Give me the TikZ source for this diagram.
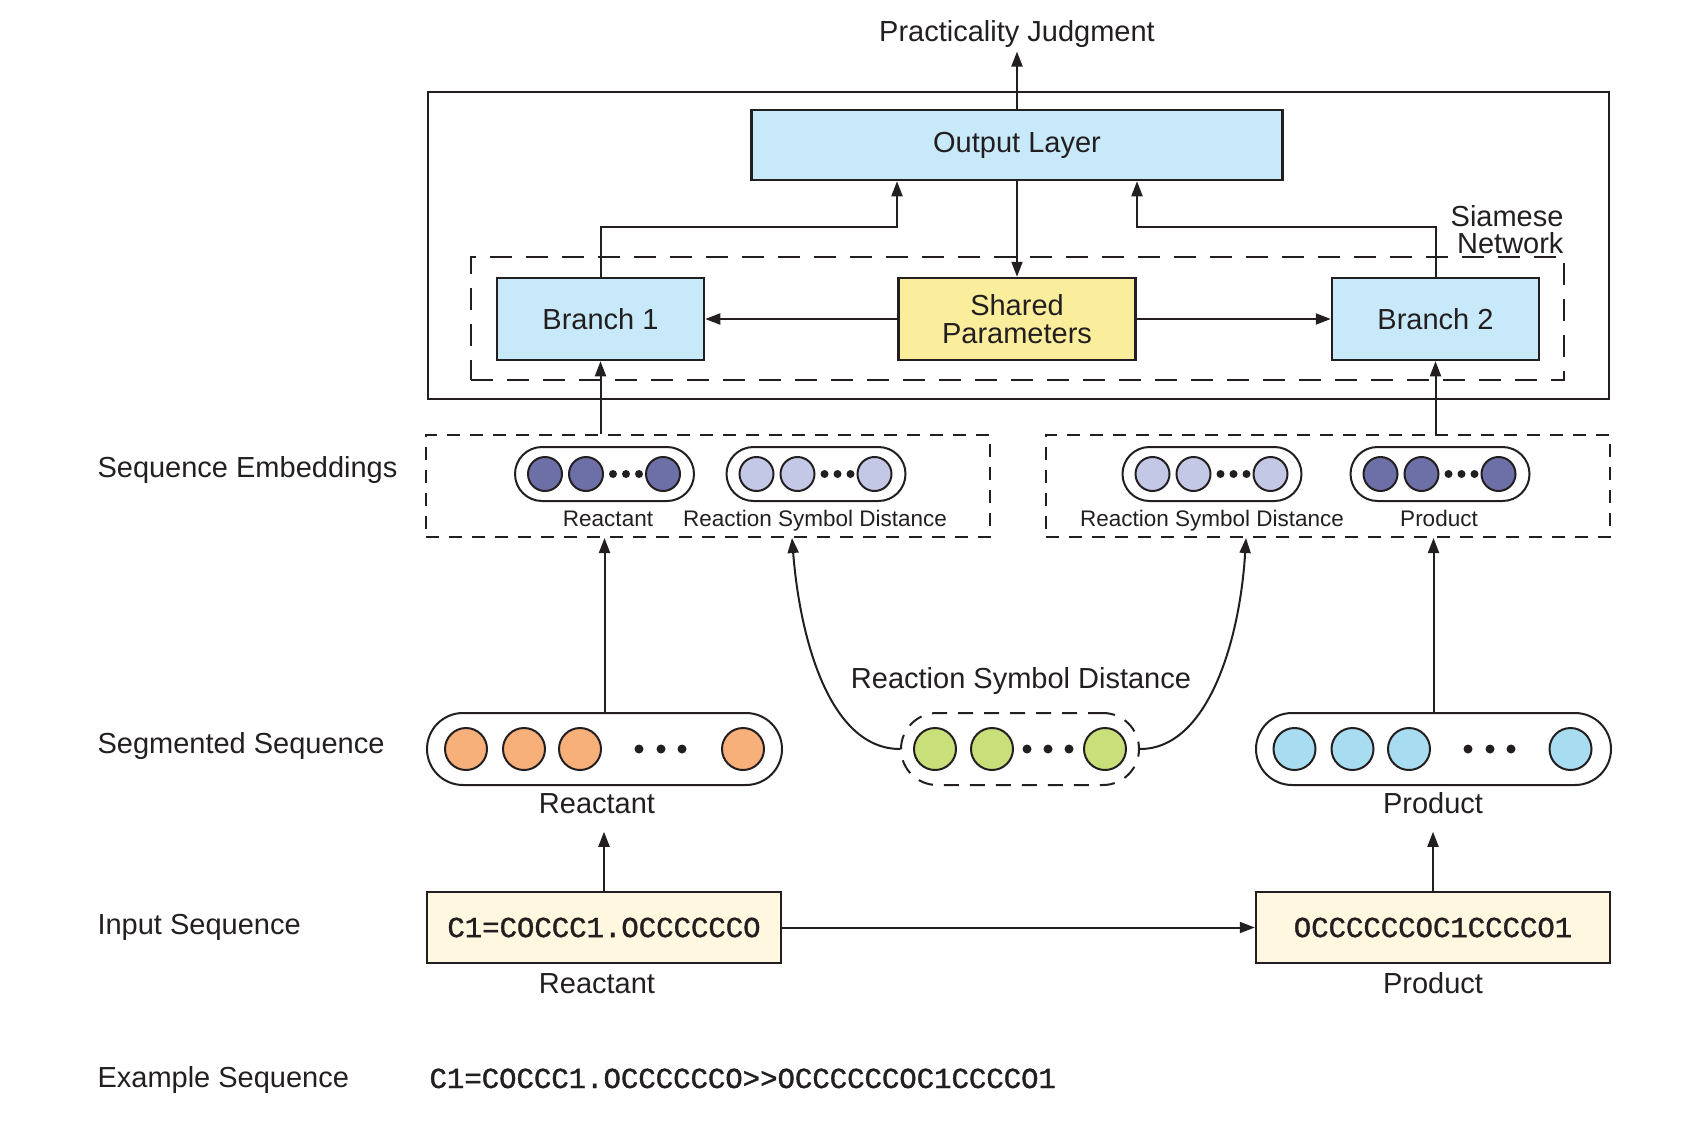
\documentclass[tikz,border=0pt]{standalone}
\usepackage{fontspec}
\setmainfont{Liberation Sans}
\setmonofont{Liberation Mono}[FakeBold=1.3]
\usetikzlibrary{arrows.meta}
\definecolor{ink}{HTML}{231F20}
\definecolor{boxblue}{HTML}{C8E9F9}
\definecolor{sharedy}{HTML}{FAEE9C}
\definecolor{embdark}{HTML}{6C70A7}
\definecolor{emblight}{HTML}{C4C8E7}
\definecolor{orangec}{HTML}{F8B07B}
\definecolor{greenc}{HTML}{C8DF7A}
\definecolor{prodc}{HTML}{A8DDF1}
\definecolor{creamc}{HTML}{FFF7DF}
\begin{document}
\begin{tikzpicture}[x=1pt,y=-1pt,
  every node/.style={font=\fontsize{29}{33}\selectfont, text=ink},
  ln/.style={draw=ink, line width=2pt},
  arr/.style={ln, -{Triangle[length=15pt,width=11pt]}},
  sbox/.style={draw=ink, line width=2.5pt, inner sep=0pt, align=center},
  smalltxt/.style={font=\fontsize{22.5}{26}\selectfont},
  monotxt/.style={font=\fontsize{29}{33}\ttfamily},
  embbox/.style={draw=ink, line width=2pt, dash pattern=on 13pt off 10pt, minimum width=564pt, minimum height=102pt, inner sep=0pt},
  pillE/.style={draw=ink, line width=2pt, rounded corners=27pt, minimum width=179pt, minimum height=54pt, inner sep=0pt},
  pillS/.style={draw=ink, line width=2pt, rounded corners=36pt, minimum width=355pt, minimum height=72pt, inner sep=0pt},
  ecirc/.style={circle, draw=ink, line width=2pt, minimum size=34pt, inner sep=0pt},
  scirc/.style={circle, draw=ink, line width=2pt, minimum size=42pt, inner sep=0pt},
  edot/.style={circle, fill=ink, minimum size=8pt, inner sep=0pt},
  sdot/.style={circle, fill=ink, minimum size=9pt, inner sep=0pt}
]
\useasboundingbox (0,0) rectangle (1691,1132);

% ---------- Siamese network ----------
\node[draw=ink, line width=2pt, minimum width=1181pt, minimum height=307pt, inner sep=0pt] (siam) at (1018.5,245.5) {};
\node[draw=ink, line width=2pt, dash pattern=on 22pt off 14pt, minimum width=1093pt, minimum height=123pt, inner sep=0pt] (sdash) at (1017.5,318.5) {};
\node[anchor=base east] (siam1) at (1567,226) {Siamese};
\node[anchor=base east] (siam2) at (1567,253) {Network};

\node[anchor=base] (title) at (1017,42) {Practicality Judgment};
\node[sbox, fill=boxblue, minimum width=531pt, minimum height=70pt] (out) at (1017,145) {Output Layer};
\node[sbox, fill=boxblue, minimum width=207pt, minimum height=82pt] (b1) at (600.5,319) {Branch 1};
\node[sbox, fill=sharedy, minimum width=237pt, minimum height=82pt, font=\fontsize{29}{28}\selectfont] (sh) at (1017,319) {Shared\\Parameters};
\node[sbox, fill=boxblue, minimum width=207pt, minimum height=82pt] (b2) at (1435.5,319) {Branch 2};

\draw[arr] (out.north) -- (out.north |- title.south);
\draw[arr] (out.south) -- (sh.north);
\draw[arr] (sh.west) -- (b1.east);
\draw[arr] (sh.east) -- (b2.west);
\draw[arr] (b1.north) |- ([xshift=-120pt,yshift=-46pt]out.south) -- ([xshift=-120pt]out.south);
\draw[arr] (b2.north) |- ([xshift=120pt,yshift=-46pt]out.south) -- ([xshift=120pt]out.south);

% ---------- Sequence embeddings ----------
\node[anchor=base west] (lEmb) at (94,477) {Sequence Embeddings};
\node[embbox] (emL) at (708,486) {};
\node[embbox] (emR) at (1328,486) {};

\node[pillE] (pe1) at (604.5,474) {};
\node[pillE] (pe2) at (816,474) {};
\node[pillE] (pe3) at (1212,474) {};
\node[pillE] (pe4) at (1440,474) {};
\foreach \p/\col in {pe1/embdark, pe2/emblight, pe3/emblight, pe4/embdark}{
  \foreach \dx [count=\i] in {-59.5,-18.5,58.5}
    \node[ecirc, fill=\col] (\p c\i) at ([xshift=\dx pt]\p.center) {};
  \foreach \dx [count=\i] in {8.5,21.5,34.5}
    \node[edot] (\p d\i) at ([xshift=\dx pt]\p.center) {};
}
\node[smalltxt, anchor=base] (pe1l) at (608,526) {Reactant};
\node[smalltxt, anchor=base] (pe2l) at (815,526) {Reaction Symbol Distance};
\node[smalltxt, anchor=base] (pe3l) at (1212,526) {Reaction Symbol Distance};
\node[smalltxt, anchor=base] (pe4l) at (1439,526) {Product};

\draw[arr] (b1.south |- emL.north) -- (b1.south);
\draw[arr] (b2.south |- emR.north) -- (b2.south);

% ---------- Segmented sequence ----------
\node[anchor=base west] (lSeg) at (94,753) {Segmented Sequence};
\node[pillS] (sR) at (604.5,749) {};
\node[pillS] (sP) at (1433.5,749) {};
\node[pillS, dash pattern=on 15pt off 11pt, minimum width=238pt] (sG) at (1020,749) {};
\foreach \dx [count=\i] in {-138.5,-80.5,-24.5,138.5}
  \node[scirc, fill=orangec] (sRc\i) at ([xshift=\dx pt]sR.center) {};
\foreach \dx [count=\i] in {-139,-81,-24.5,137}
  \node[scirc, fill=prodc] (sPc\i) at ([xshift=\dx pt]sP.center) {};
\foreach \dx [count=\i] in {-85,-28,85}
  \node[scirc, fill=greenc] (sGc\i) at ([xshift=\dx pt]sG.center) {};
\foreach \dx [count=\i] in {34.5,56.5,77.5}{
  \node[sdot] (sRd\i) at ([xshift=\dx pt]sR.center) {};
  \node[sdot] (sPd\i) at ([xshift=\dx pt]sP.center) {};
}
\foreach \dx [count=\i] in {7,28,49}
  \node[sdot] (sGd\i) at ([xshift=\dx pt]sG.center) {};

\node[anchor=base] (sRl) at (597,813) {Reactant};
\node[anchor=base] (sPl) at (1433,813) {Product};
\node[anchor=base] (sGl) at (1021,688) {Reaction Symbol Distance};

\draw[arr] (sR.north) -- (sR.north |- emL.south);
\draw[arr] (sP.north) -- (sP.north |- emR.south);
\draw[arr] (sG.west) .. controls (830,749) and (800,640) .. ([xshift=84pt]emL.south);
\draw[arr] (sG.east) .. controls (1208,749) and (1240,640) .. ([xshift=-82pt]emR.south);

% ---------- Input sequence ----------
\node[anchor=base west] (lIn) at (94,934) {Input Sequence};
\node[sbox, fill=creamc, minimum width=354pt, minimum height=71pt, monotxt] (iR) at (604,927.5) {C1=COCCC1.OCCCCCCO};
\node[sbox, fill=creamc, minimum width=354pt, minimum height=71pt, monotxt] (iP) at (1433,927.5) {OCCCCCCOC1CCCCO1};
\node[anchor=base] (iRl) at (597,993) {Reactant};
\node[anchor=base] (iPl) at (1433,993) {Product};

\draw[arr] (iR.east) -- (iP.west);
\draw[arr] (iR.north) -- ++(0,-59);
\draw[arr] (iP.north) -- ++(0,-59);

% ---------- Example ----------
\node[anchor=base west] (lEx) at (94,1087) {Example Sequence};
\node[anchor=base west, monotxt] (ex) at (426,1088) {C1=COCCC1.OCCCCCCO>>OCCCCCCOC1CCCCO1};
\end{tikzpicture}
\end{document}
